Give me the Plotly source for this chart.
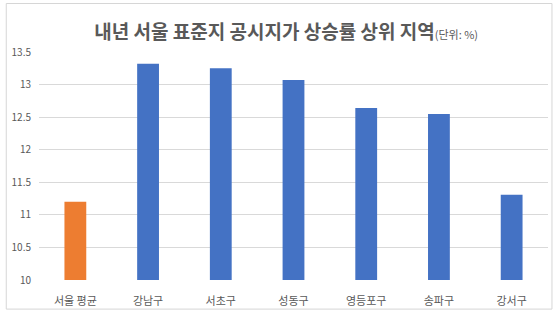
import plotly.graph_objects as go

categories = ["서울 평균", "강남구", "서초구", "성동구", "영등포구", "송파구", "강서구"]
values = [11.2, 13.32, 13.25, 13.07, 12.64, 12.55, 11.31]
colors = ["#ED7D31"] + ["#4472C4"] * 6
tick_vals = [10, 10.5, 11, 11.5, 12, 12.5, 13, 13.5]
tick_text = ["10", "10.5", "11", "11.5", "12", "12.5", "13", "13.5"]

L, R, T, B = 35, 12, 52, 33
PW, PH = 560 - L - R, 320 - T - B

fig = go.Figure(go.Bar(x=categories, y=values, marker=dict(color=colors, line=dict(width=0))))
fig.update_layout(
    width=560, height=320,
    margin=dict(l=L, r=R, t=T, b=B),
    paper_bgcolor="white", plot_bgcolor="white",
    bargap=0.70,
    font=dict(family="Noto Sans CJK KR", color="#595959"),
    showlegend=False,
    title=dict(
        text="<b>내년 서울 표준지 공시지가 상승률 상위 지역</b><span style='font-size:11px'>(단위: %)</span>",
        x=0.511, xanchor="center", y=0.9, yanchor="middle",
        font=dict(size=19, color="#595959", family="Noto Sans CJK KR"),
    ),
    xaxis=dict(showline=False, ticks="", ticklabelstandoff=13,
               tickfont=dict(size=11, color="#595959")),
    yaxis=dict(range=[10, 13.5], tickvals=tick_vals, ticktext=tick_text,
               showgrid=True, gridcolor="#D9D9D9", gridwidth=1, zeroline=False,
               ticklabelstandoff=7,
               tickfont=dict(size=10, color="#595959"), ticks="", showline=False),
    shapes=[dict(type="rect", xref="paper", yref="paper",
                 x0=(2 - L) / PW, x1=(552 - L) / PW,
                 y0=-(B - 3) / PH,
                 y1=1 + (T - 2) / PH,
                 line=dict(color="#D6D6D6", width=1))],
)
fig.write_html("out.html")
